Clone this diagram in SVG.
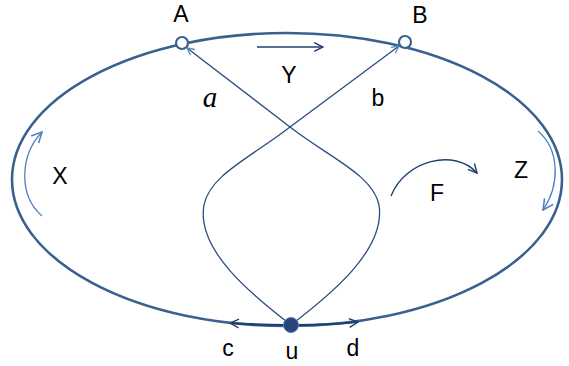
<svg xmlns="http://www.w3.org/2000/svg" width="569" height="366" viewBox="0 0 569 366">
<defs>
<marker id="ah" viewBox="0 0 10 10" refX="9" refY="5" markerWidth="9" markerHeight="9" markerUnits="userSpaceOnUse" orient="auto"><path d="M1,1 L9,5 L1,9" fill="none" stroke="#5B8BC9" stroke-width="1.5"/></marker>
<marker id="ad" viewBox="0 0 10 10" refX="9" refY="5" markerWidth="11" markerHeight="11" markerUnits="userSpaceOnUse" orient="auto"><path d="M1,1 L9,5 L1,9" fill="none" stroke="#1F3F6F" stroke-width="1.3"/></marker>
<marker id="al" viewBox="0 0 10 10" refX="9" refY="5" markerWidth="13" markerHeight="13" markerUnits="userSpaceOnUse" orient="auto"><path d="M1,1 L9,5 L1,9" fill="none" stroke="#4F81BD" stroke-width="1.2"/></marker>
</defs>
<style>
.t{font-family:"Liberation Sans",Arial,sans-serif;font-size:23px;fill:#000;text-anchor:middle}
.curve{fill:none;stroke:#2A4D7E;stroke-width:1.3}
</style>
<rect width="569" height="366" fill="#fff"/>
<g id="outer"><ellipse cx="287" cy="179.5" rx="275" ry="146.5" fill="none" stroke="#3A6090" stroke-width="2.6"/></g>
<g id="connectors">
<path class="curve" d="M291,325 C330,295 386,250 379,205 C373,175 330,158 290,127 L187,48" marker-end="url(#ah)"/>
<path class="curve" d="M291,325 C252,295 196,250 204,205 C210,175 250,158 290,127 L399,46" marker-end="url(#ah)"/>
<path d="M257,47 L323,47" fill="none" stroke="#1F3F6F" stroke-width="1.3" marker-end="url(#ad)"/>
<path d="M42,216 C18,195 20,155 42,132" fill="none" stroke="#4F81BD" stroke-width="1.3" marker-end="url(#al)"/>
<path d="M538,131 C560,150 560,185 543,210" fill="none" stroke="#4F81BD" stroke-width="1.3" marker-end="url(#al)"/>
<path d="M391,196 C405,160 455,148 477,173" fill="none" stroke="#1F3F6F" stroke-width="1.4" marker-end="url(#ad)"/>
<path d="M287,325 C265,325 245,324 230,323" fill="none" stroke="#1F3F6F" stroke-width="2.2" marker-end="url(#ad)"/>
<path d="M295,325 C315,325 340,324 358,322" fill="none" stroke="#1F3F6F" stroke-width="2.2" marker-end="url(#ad)"/>
</g>
<g id="A"><circle cx="182" cy="43" r="6" fill="#fff" stroke="#3A6090" stroke-width="2.2"/><text class="t" x="181" y="22">A</text></g>
<g id="B"><circle cx="405" cy="42" r="6" fill="#fff" stroke="#3A6090" stroke-width="2.2"/><text class="t" x="420" y="23">B</text></g>
<g id="u"><circle cx="291" cy="325" r="7.5" fill="#24467A" stroke="#5A7FB0" stroke-width="1"/><text class="t" x="292" y="359">u</text></g>
<g id="labels">
<text class="t" x="289" y="83">Y</text>
<text x="210" y="107" font-family="'Liberation Serif','Times New Roman',serif" font-style="italic" font-size="29" text-anchor="middle">a</text>
<text class="t" x="378" y="106">b</text>
<text class="t" x="60" y="184">X</text>
<text class="t" x="437" y="201">F</text>
<text class="t" x="521" y="178">Z</text>
<text class="t" x="228" y="356">c</text>
<text class="t" x="353" y="356">d</text>
</g>
</svg>
